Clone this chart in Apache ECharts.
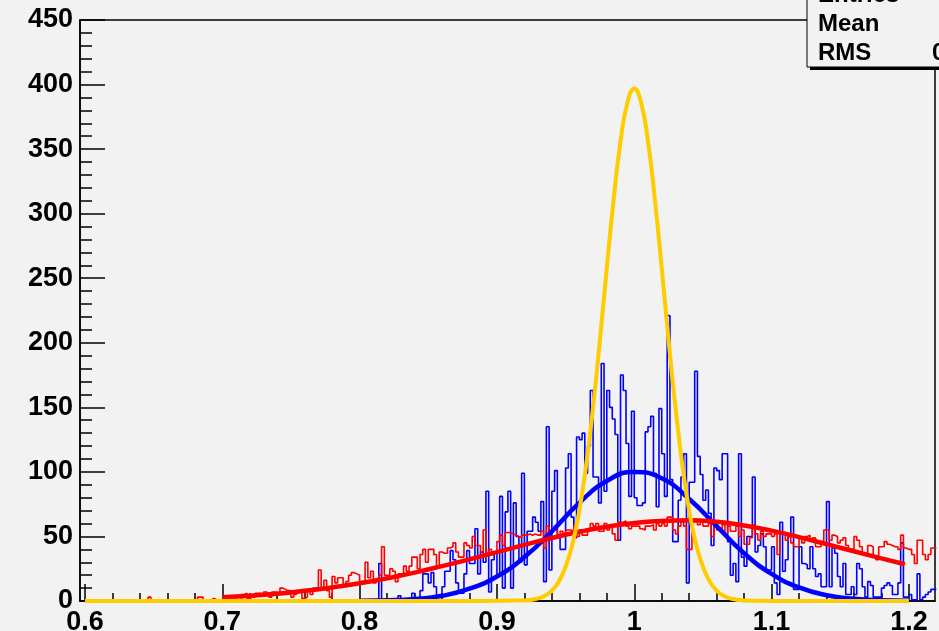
<!DOCTYPE html>
<html>
<head>
<meta charset="utf-8">
<script src="https://cdn.jsdelivr.net/npm/echarts@6/dist/echarts.min.js"></script>
<style>
  html, body { margin: 0; padding: 0; background: #f2f2f2; }
  #chart { width: 939px; height: 631px; }
</style>
</head>
<body>
<div id="chart"></div>
<script>
// histogram binning (bin width 0.002)
const binWidth = 0.002;
const redStart = 0.6;
const blueStart = 0.8;

// red histogram, bins from 0.6
const redCounts = [
  0, 0, 0, 1, 0, 0, 0, 0, 1, 0,
  0, 0, 0, 0, 0, 1, 0, 0, 0, 0,
  0, 1, 0, 3, 0, 0, 1, 0, 0, 1,
  1, 0, 0, 0, 1, 0, 0, 1, 0, 1,
  0, 3, 3, 1, 0, 1, 2, 1, 0, 1,
  2, 4, 4, 3, 3, 1, 1, 5, 6, 2,
  3, 3, 6, 6, 5, 7, 6, 3, 7, 7,
  5, 10, 9, 8, 8, 3, 5, 8, 9, 2,
  3, 9, 5, 10, 10, 24, 10, 16, 8, 3,
  19, 14, 18, 18, 12, 15, 20, 22, 21, 20,
  15, 15, 30, 18, 23, 14, 16, 20, 42, 20,
  20, 25, 23, 15, 21, 21, 27, 23, 27, 34,
  34, 25, 36, 40, 30, 40, 40, 36, 27, 38,
  37, 37, 41, 42, 45, 38, 34, 34, 45, 43,
  41, 50, 43, 43, 38, 55, 37, 40, 38, 38,
  46, 51, 43, 53, 53, 52, 51, 50, 49, 51,
  51, 52, 51, 52, 51, 51, 54, 41, 58, 52,
  55, 55, 51, 54, 50, 55, 55, 54, 58, 50,
  55, 51, 51, 55, 60, 58, 60, 54, 54, 60,
  55, 58, 52, 47, 61, 61, 62, 58, 56, 58,
  58, 58, 56, 55, 58, 58, 59, 55, 60, 58,
  60, 58, 65, 65, 55, 52, 58, 61, 58, 40,
  40, 61, 63, 59, 61, 58, 58, 60, 50, 60,
  55, 55, 59, 52, 58, 54, 54, 58, 50, 55,
  44, 44, 49, 59, 52, 47, 54, 50, 52, 52,
  50, 52, 36, 52, 52, 47, 50, 45, 42, 42,
  49, 45, 50, 51, 47, 49, 42, 42, 46, 55,
  55, 47, 51, 50, 45, 47, 49, 43, 40, 40,
  50, 47, 42, 37, 37, 43, 42, 35, 32, 42,
  42, 46, 44, 43, 42, 42, 40, 51, 41, 40,
  40, 36, 29, 47, 47, 36, 32, 36, 41, 41
];

// blue histogram, bins from 0.8
const blueCounts = [
  0, 0, 0, 0, 0, 0, 0, 29, 0, 0,
  0, 1, 0, 0, 4, 0, 1, 0, 0, 6,
  0, 2, 8, 21, 21, 14, 22, 11, 3, 3,
  11, 23, 23, 39, 32, 14, 6, 6, 21, 39,
  29, 29, 56, 21, 38, 30, 85, 7, 32, 37,
  20, 81, 10, 69, 85, 10, 76, 50, 30, 99,
  28, 54, 54, 65, 61, 54, 77, 15, 135, 24,
  85, 101, 49, 40, 40, 103, 114, 65, 49, 127,
  125, 130, 99, 120, 163, 96, 96, 76, 184, 85,
  163, 150, 141, 129, 47, 175, 163, 122, 81, 147,
  80, 74, 74, 76, 131, 135, 143, 99, 73, 149,
  114, 81, 221, 94, 46, 46, 78, 96, 114, 14,
  92, 92, 178, 112, 98, 78, 86, 68, 43, 103,
  101, 94, 114, 114, 46, 20, 29, 15, 114, 34,
  27, 50, 50, 96, 38, 43, 52, 42, 24, 24,
  42, 14, 5, 61, 23, 32, 50, 65, 9, 9,
  42, 29, 28, 25, 42, 25, 19, 21, 11, 11,
  77, 11, 41, 37, 19, 11, 29, 5, 5, 11,
  5, 29, 25, 11, 3, 15, 12, 3, 3, 3,
  10, 12, 14, 12, 5, 5, 14, 45, 3, 3,
  5, 1, 1, 21, 1, 3, 5, 7, 9, 9
];

// fitted curves
const yellowX = [0.6, 0.7, 0.8, 0.88, 0.9, 0.91, 0.92, 0.93, 0.935, 0.94, 0.945, 0.95, 0.955, 0.96, 0.965, 0.97, 0.975, 0.98, 0.985, 0.99, 0.995,
  1.0, 1.005, 1.01, 1.015, 1.02, 1.025, 1.03, 1.035, 1.04, 1.045, 1.05, 1.055, 1.06, 1.065, 1.07, 1.08, 1.09, 1.1, 1.12, 1.15, 1.2];
const yellowY = [0, 0, 0, 0, 0.1, 0.4, 0.4, 2, 4.1, 8.1, 15, 26.6, 44, 70, 105.5, 150, 202, 258, 311, 356, 386,
  397, 386, 356, 311, 258, 202, 150, 105.5, 70, 44, 26.6, 15, 8.1, 4.1, 2, 0.4, 0.1, 0, 0, 0, 0];

const blueFitX = [0.8, 0.82, 0.84, 0.86, 0.88, 0.9, 0.92, 0.94, 0.96, 0.98, 1.0, 1.02, 1.04, 1.06, 1.08, 1.1, 1.12, 1.14, 1.16, 1.18, 1.2];
const blueFitY = [0.15, 0.5, 1.5, 4, 9.5, 19, 34, 54, 76, 93, 100, 95, 79, 58, 37, 21, 10.5, 4.5, 1.7, 0.55, 0.16];

const redFitX = [0.7, 0.72, 0.74, 0.76, 0.78, 0.8, 0.82, 0.84, 0.86, 0.88, 0.9, 0.92, 0.94, 0.96, 0.98, 1.0, 1.02, 1.04, 1.06, 1.08, 1.1, 1.12, 1.14, 1.16, 1.18, 1.197];
const redFitY = [3, 4.1, 5.7, 7.9, 10.5, 13.7, 17.6, 22, 27, 32.3, 37.9, 43.5, 48.8, 53.6, 57.5, 60.4, 62, 62.5, 61.3, 58.5, 54.5, 49.5, 44, 38.5, 33, 28.5];

// axes
const xTickLabels = [0.6, 0.7, 0.8, 0.9, 1.0, 1.1, 1.2];
const xMin = 0.5964, xMax = 1.219;

const xMinorTicks = [];
xTickLabels.forEach((v, i) => {
  for (let k = 0; k < 5 && i < xTickLabels.length - 1; k++) {
    xMinorTicks.push(+(v + k * 0.02).toFixed(3));
  }
});
xMinorTicks.push(1.2);

function stepData(start, counts) {
  const pts = counts.map((c, i) => [+(start + i * binWidth).toFixed(4), c]);
  pts.push([+(start + counts.length * binWidth).toFixed(4), counts[counts.length - 1]]);
  return pts;
}

const font = '"Liberation Sans", Arial, Helvetica, sans-serif';
const chart = echarts.init(document.getElementById('chart'));

chart.setOption({
  animation: false,
  backgroundColor: '#f2f2f2',
  grid: {
    left: 80, top: 20, right: 4, bottom: 30,
    outerBoundsMode: 'none',
    containLabel: false,
    show: true,
    backgroundColor: '#f2f2f2',
    borderColor: '#000',
    borderWidth: 1.5
  },
  xAxis: [
    {
      type: 'value',
      position: 'bottom',
      min: xMin,
      max: xMax,
      axisLine: { show: true, lineStyle: { color: '#000', width: 1.5 } },
      axisTick: { show: true, inside: true, length: 17, customValues: xTickLabels, lineStyle: { color: '#000', width: 1.5 } },
      axisLabel: {
        customValues: xTickLabels,
        formatter: (v) => String(+(+v).toFixed(1)),
        color: '#000',
        fontFamily: font,
        fontWeight: 'bold',
        fontSize: 27,
        margin: 8
      },
      splitLine: { show: false }
    },
    {
      type: 'value',
      position: 'bottom',
      min: xMin,
      max: xMax,
      axisLine: { show: false },
      axisTick: { show: true, inside: true, length: 8, customValues: xMinorTicks, lineStyle: { color: '#000', width: 1.5 } },
      axisLabel: { show: false },
      splitLine: { show: false }
    }
  ],
  yAxis: {
    type: 'value',
    min: 0,
    max: 450,
    interval: 50,
    axisLine: { show: true, lineStyle: { color: '#000', width: 1.5 } },
    axisTick: { show: true, inside: true, length: 25, lineStyle: { color: '#000', width: 1.5 } },
    minorTick: { show: true, splitNumber: 5, length: 12, lineStyle: { color: '#000', width: 1.5 } },
    axisLabel: {
      color: '#000',
      fontFamily: font,
      fontWeight: 'bold',
      fontSize: 27,
      margin: 7
    },
    splitLine: { show: false }
  },
  series: [
    {
      name: 'blue hist',
      type: 'line',
      step: 'end',
      symbol: 'none',
      data: stepData(blueStart, blueCounts),
      lineStyle: { color: '#0000ff', width: 1.6 }
    },
    {
      name: 'red hist',
      type: 'line',
      step: 'end',
      symbol: 'none',
      data: stepData(redStart, redCounts),
      lineStyle: { color: '#ff0000', width: 1.6 }
    },
    {
      name: 'blue fit',
      type: 'line',
      smooth: true,
      symbol: 'none',
      clip: false,
      data: blueFitX.map((x, i) => [x, blueFitY[i]]),
      lineStyle: { color: '#0000ff', width: 4.5 }
    },
    {
      name: 'red fit',
      type: 'line',
      smooth: true,
      symbol: 'none',
      clip: false,
      data: redFitX.map((x, i) => [x, redFitY[i]]),
      lineStyle: { color: '#ff0000', width: 4.5 }
    },
    {
      name: 'yellow fit',
      type: 'line',
      smooth: true,
      symbol: 'none',
      clip: false,
      data: yellowX.map((x, i) => [x, yellowY[i]]),
      lineStyle: { color: '#ffcc00', width: 4 }
    }
  ],
  graphic: [
    { type: 'rect', z: 100, shape: { x: 810, y: -10, width: 140, height: 80 }, style: { fill: '#000' } },
    { type: 'rect', z: 101, shape: { x: 807, y: -12, width: 140, height: 79 }, style: { fill: '#f2f2f2', stroke: '#000', lineWidth: 1 } },
    { type: 'text', z: 102, x: 818, y: -5, style: { text: 'Entries', font: 'bold 24px ' + font, fill: '#000', verticalAlign: 'middle' } },
    { type: 'text', z: 102, x: 818, y: 24, style: { text: 'Mean', font: 'bold 24px ' + font, fill: '#000', verticalAlign: 'middle' } },
    { type: 'text', z: 102, x: 818, y: 53, style: { text: 'RMS', font: 'bold 24px ' + font, fill: '#000', verticalAlign: 'middle' } },
    { type: 'text', z: 102, x: 932, y: 53, style: { text: '0.1', font: 'bold 24px ' + font, fill: '#000', verticalAlign: 'middle' } }
  ]
});
</script>
</body>
</html>
